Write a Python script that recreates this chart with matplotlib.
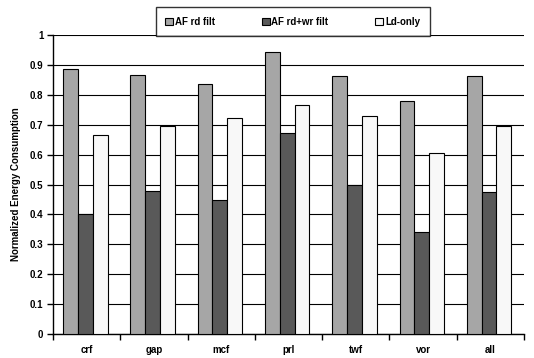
import matplotlib
matplotlib.use("Agg")
import matplotlib.pyplot as plt
import numpy as np

categories = ["crf", "gap", "mcf", "prl", "twf", "vor", "all"]
af_rd = [0.888, 0.866, 0.836, 0.942, 0.863, 0.778, 0.862]
af_rdwr = [0.402, 0.479, 0.449, 0.671, 0.500, 0.342, 0.474]
ld_only = [0.667, 0.697, 0.724, 0.767, 0.729, 0.607, 0.697]
series_names = ["AF rd filt", "AF rd+wr filt", "Ld-only"]

plt.rcParams["font.family"] = ["Liberation Sans", "DejaVu Sans"]
plt.rcParams["font.weight"] = "bold"

fig = plt.figure(figsize=(5.34, 3.58), dpi=100)
ax = fig.add_axes([0.0993, 0.067, 0.882, 0.835])

x = np.arange(len(categories))
w = 0.22
colors = ["#a6a6a6", "#595959", "#f8f8f8"]
for i, (vals, name) in enumerate(zip([af_rd, af_rdwr, ld_only], series_names)):
    ax.bar(x + (i - 1) * w - 0.02, vals, w, color=colors[i], edgecolor="black",
           linewidth=0.8, label=name, zorder=3)

ax.set_xlim(-0.5, len(categories) - 0.5)
ax.set_ylim(0, 1)
ax.set_yticks(np.arange(0, 1.01, 0.1))
ax.set_yticklabels(["0"] + [f"{v:.1f}" for v in np.arange(0.1, 0.95, 0.1)] + ["1"])
ax.set_xticks(x)
ax.set_xticklabels(categories)
ax.set_xticks(np.arange(-0.5, len(categories), 1), minor=True)
ax.tick_params(axis="x", which="major", length=0, pad=8)
ax.tick_params(axis="x", which="minor", length=4, width=1, direction="out")
ax.tick_params(axis="y", length=4, width=1, direction="out", pad=3)
ax.tick_params(labelsize=7)
for lab in ax.get_xticklabels() + ax.get_yticklabels():
    lab.set_fontweight("bold")

ax.grid(axis="y", color="black", linewidth=0.8, zorder=0)
for s in ["top", "right"]:
    ax.spines[s].set_visible(False)
ax.spines["left"].set_linewidth(1)
ax.spines["bottom"].set_linewidth(1)

ax.set_ylabel("Normalized Energy Consumption", fontsize=7, fontweight="bold", labelpad=6)

leg = fig.legend(loc="upper center", bbox_to_anchor=(0.548, 0.994), ncol=3,
                 fontsize=7, frameon=True, fancybox=False, edgecolor="black",
                 handlelength=0.8, handleheight=0.8, handletextpad=0.2,
                 columnspacing=4.8, borderpad=1.0)
leg.get_frame().set_linewidth(1)
for t in leg.get_texts():
    t.set_fontweight("bold")

fig.savefig("out.png", dpi=100)
